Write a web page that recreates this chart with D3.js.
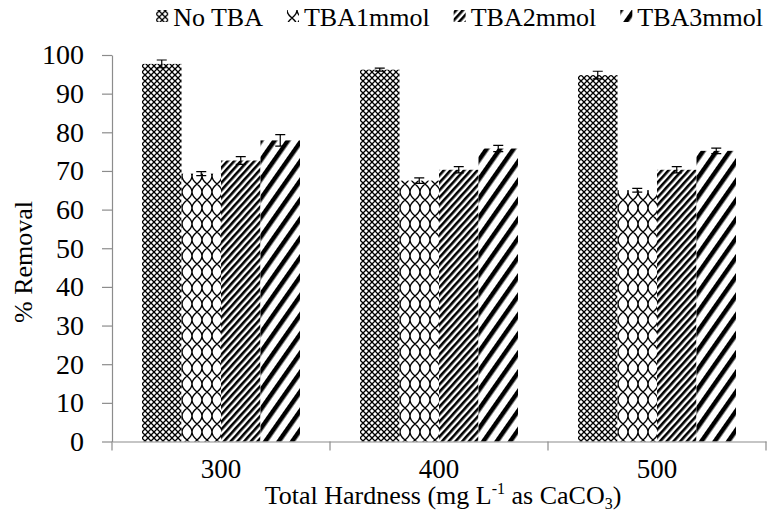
<!DOCTYPE html>
<html>
<head>
<meta charset="utf-8">
<script src="https://cdn.jsdelivr.net/npm/d3@7"></script>
<style>
  body { margin: 0; background: #fff; }
  text { font-family: "Liberation Serif", "DejaVu Serif", serif; fill: #000; }
</style>
</head>
<body>
<div id="page"></div>
<script>
var categories = ['300', '400', '500'];
var seriesNames = ['No TBA', 'TBA1mmol', 'TBA2mmol', 'TBA3mmol'];
var noTba = [97.7, 96.2, 94.8];
var tba1 = [69.3, 67.5, 65.0];
var tba2 = [72.7, 70.3, 70.3];
var tba3 = [77.9, 75.8, 75.2];
var noTbaErr = [1.0, 0.4, 1.0];
var tba1Err = [0.5, 0.7, 0.5];
var tba2Err = [1.0, 0.8, 0.8];
var tba3Err = [1.5, 0.8, 0.7];
var yTicks = [0, 10, 20, 30, 40, 50, 60, 70, 80, 90, 100];

var values = [noTba, tba1, tba2, tba3],
    errors = [noTbaErr, tba1Err, tba2Err, tba3Err],
    patternIds = ['pNo', 'pT1', 'pT2', 'pT3'];

var width = 767, height = 515,
    plotLeft = 112, plotRight = 766, plotTop = 55, plotBottom = 441.5,
    axisColor = '#8c8c8c',
    serif = '"Liberation Serif", "DejaVu Serif", serif';

var svg = d3.select('#page').append('svg')
    .attr('width', width)
    .attr('height', height);

var defs = svg.append('defs');

var addPattern = function(id, w, h, transform) {
  var p = defs.append('pattern')
      .attr('id', id)
      .attr('patternUnits', 'userSpaceOnUse')
      .attr('width', w)
      .attr('height', h);
  if (transform) p.attr('patternTransform', transform);
  p.append('rect').attr('width', w).attr('height', h).attr('fill', '#fff');
  return p;
};

// small diamond lattice
addPattern('pNo', 6, 6).append('path')
    .attr('d', 'M0,0L6,6M6,0L0,6')
    .attr('stroke', '#000').attr('stroke-width', 1.3).attr('fill', 'none');

// curvy ogee lattice
addPattern('pT1', 20, 16).append('path')
    .attr('d', 'M0,0C0,8 10,8 10,16M20,0C20,8 10,8 10,16M10,0C10,8 0,8 0,16M10,0C10,8 20,8 20,16')
    .attr('stroke', '#000').attr('stroke-width', 1.4).attr('fill', 'none');

// dense diagonal stripes
addPattern('pT2', 5, 10, 'rotate(42)').append('rect')
    .attr('x', 0).attr('width', 2.6).attr('height', 10).attr('fill', '#000');

// wide diagonal stripes
addPattern('pT3', 11, 10, 'rotate(35)').append('rect')
    .attr('x', 0).attr('width', 4.5).attr('height', 10).attr('fill', '#000');

var x0 = d3.scaleBand()
    .domain(categories)
    .range([plotLeft, plotRight])
    .paddingInner(60 / 218)
    .paddingOuter(30 / 218);

var x1 = d3.scaleBand()
    .domain(seriesNames)
    .range([0, x0.bandwidth()]);

var y = d3.scaleLinear()
    .domain([0, 100])
    .range([plotBottom, plotTop]);

// y axis
var yAxis = svg.append('g')
    .attr('transform', 'translate(' + plotLeft + ',0)')
    .call(d3.axisLeft(y).tickValues(yTicks).tickSize(10).tickSizeOuter(0).tickPadding(18));
yAxis.selectAll('line, path').attr('stroke', axisColor).attr('stroke-width', 1.2);
yAxis.attr('font-family', serif).attr('font-size', 28);

// bars
var groups = svg.selectAll('g.cat')
    .data(categories)
  .enter().append('g')
    .attr('class', 'cat')
    .attr('transform', function(d) { return 'translate(' + x0(d) + ',0)'; });

groups.selectAll('rect')
    .data(function(d, i) {
      return seriesNames.map(function(s, j) {
        return { s: s, v: values[j][i], e: errors[j][i], p: patternIds[j] };
      });
    })
  .enter().append('rect')
    .attr('x', function(d) { return x1(d.s); })
    .attr('y', function(d) { return y(d.v); })
    .attr('width', x1.bandwidth())
    .attr('height', function(d) { return y(0) - y(d.v); })
    .attr('fill', function(d) { return 'url(#' + d.p + ')'; });

// error bars
var errs = groups.selectAll('g.err')
    .data(function(d, i) {
      return seriesNames.map(function(s, j) {
        return { s: s, v: values[j][i], e: errors[j][i] };
      });
    })
  .enter().append('g')
    .attr('class', 'err')
    .attr('transform', function(d) { return 'translate(' + (x1(d.s) + x1.bandwidth() / 2) + ',0)'; });

errs.append('path')
    .attr('d', function(d) {
      var hi = y(d.v + d.e), lo = y(d.v - d.e);
      return 'M0,' + lo + 'V' + hi + 'M-5,' + hi + 'H5M-5,' + lo + 'H5';
    })
    .attr('stroke', '#000')
    .attr('stroke-width', 1.2)
    .attr('fill', 'none');

// x axis: line, boundary ticks, centred labels
var xAxis = svg.append('g')
    .attr('transform', 'translate(0,' + plotBottom + ')')
    .call(d3.axisBottom(x0).tickSize(0).tickSizeOuter(0).tickPadding(17));
xAxis.select('.domain').attr('stroke', axisColor).attr('stroke-width', 1.2);
xAxis.attr('font-family', serif).attr('font-size', 27);

var bounds = [plotLeft].concat(categories.map(function(c) { return x0(c) + x0.bandwidth() + x0.step() * x0.paddingOuter(); }));
xAxis.selectAll('line.bound')
    .data(bounds)
  .enter().append('line')
    .attr('class', 'bound')
    .attr('x1', function(d) { return d; })
    .attr('x2', function(d) { return d; })
    .attr('y1', 0)
    .attr('y2', 9)
    .attr('stroke', axisColor)
    .attr('stroke-width', 1.2);

// axis titles
svg.append('text')
    .attr('transform', 'translate(32,262) rotate(-90)')
    .attr('text-anchor', 'middle')
    .attr('font-size', 26)
    .text('% Removal');

var xt = svg.append('text')
    .attr('x', 443)
    .attr('y', 504)
    .attr('text-anchor', 'middle')
    .attr('font-size', 26);
xt.append('tspan').text('Total Hardness (mg L');
xt.append('tspan').attr('font-size', 16).attr('dy', -10).text('-1');
xt.append('tspan').attr('dy', 10).text(' as CaCO');
xt.append('tspan').attr('font-size', 16).attr('dy', 5).text('3');
xt.append('tspan').attr('dy', -5).text(')');

// legend, right-aligned to the chart edge
var legend = svg.append('g');
var lx = 0;
seriesNames.forEach(function(s, j) {
  var item = legend.append('g').attr('transform', 'translate(' + lx + ',0)');
  item.append('rect')
      .attr('x', 0).attr('y', -16)
      .attr('width', 12).attr('height', 12)
      .attr('fill', 'url(#' + patternIds[j] + ')');
  var t = item.append('text')
      .attr('x', 17)
      .attr('font-size', 26)
      .text(s);
  lx += 17 + t.node().getComputedTextLength() + (j < 3 ? 24 : 0);
});
legend.attr('transform', 'translate(' + (763 - lx) + ',26)');
</script>
</body>
</html>
